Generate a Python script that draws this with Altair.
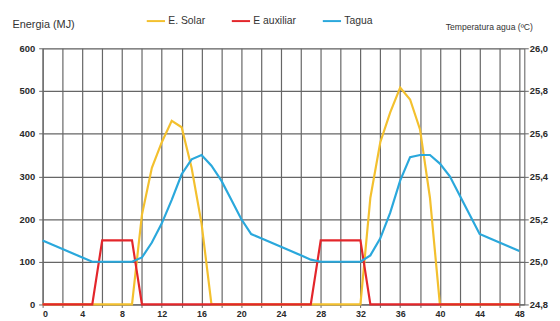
import altair as alt
import pandas as pd

# ---- data ----
hours = list(range(49))

solar = [0, 0, 0, 0, 0, 0, 0, 0, 0, 0,
         210, 320, 380, 430, 415, 320, 190, 0, 0, 0,
         0, 0, 0, 0, 0, 0, 0, 0, 0, 0,
         0, 0, 0, 250, 380, 450, 508, 480, 410, 250,
         0, 0, 0, 0, 0, 0, 0, 0, 0]

auxiliar = [0, 0, 0, 0, 0, 0, 150, 150, 150, 150,
            0, 0, 0, 0, 0, 0, 0, 0, 0, 0,
            0, 0, 0, 0, 0, 0, 0, 0, 150, 150,
            150, 150, 150, 0, 0, 0, 0, 0, 0, 0,
            0, 0, 0, 0, 0, 0, 0, 0, 0]

tagua = [25.10, 25.08, 25.06, 25.04, 25.02, 25.00, 25.00, 25.00, 25.00, 25.00,
         25.02, 25.09, 25.18, 25.29, 25.41, 25.48, 25.50, 25.45, 25.38, 25.29,
         25.20, 25.13, 25.11, 25.09, 25.07, 25.05, 25.03, 25.01, 25.00, 25.00,
         25.00, 25.00, 25.00, 25.03, 25.11, 25.23, 25.38, 25.49, 25.50, 25.50,
         25.46, 25.40, 25.31, 25.22, 25.13, 25.11, 25.09, 25.07, 25.05]

series_names = ["E. Solar", "E auxiliar", "Tagua"]
series_colors = ["#F3C02E", "#E3262B", "#2AA8DC"]
energy_ticks = [0, 100, 200, 300, 400, 500, 600]
temp_ticks = [24.8, 25.0, 25.2, 25.4, 25.6, 25.8, 26.0]
hour_ticks = list(range(0, 49, 2))

df_solar = pd.DataFrame({"hora": hours, "valor": solar, "serie": series_names[0]})
df_aux = pd.DataFrame({"hora": hours, "valor": auxiliar, "serie": series_names[1]})
df_tagua = pd.DataFrame({"hora": hours, "temp": tagua, "serie": series_names[2]})

FONT = "Liberation Sans"
GRID = "#666666"
LABEL = "#2a2a2a"

color = alt.Color(
    "serie:N",
    scale=alt.Scale(domain=series_names, range=series_colors),
    legend=alt.Legend(
        title=None,
        orient="none",
        direction="horizontal",
        legendX=104,
        legendY=-38,
        symbolType="stroke",
        symbolSize=340,
        symbolStrokeWidth=2,
        labelFontSize=10.5,
        labelFont=FONT,
        labelColor="#333333",
        labelOffset=2,
        columnPadding=22,
    ),
)

x_enc = alt.X(
    "hora:Q",
    scale=alt.Scale(domain=[0, 48.5], nice=False, zero=False),
    axis=alt.Axis(
        title=None,
        values=hour_ticks,
        labelExpr="datum.value % 4 == 0 ? datum.label : ''",
        grid=True,
        gridColor=GRID,
        gridWidth=1.2,
        tickColor=GRID,
        tickSize=3,
        domainColor=GRID,
        labelFontSize=9,
        labelFontWeight="bold",
        labelFont=FONT,
        labelColor=LABEL,
        labelPadding=2,
    ),
)

y_energy = alt.Y(
    "valor:Q",
    scale=alt.Scale(domain=[0, 600], nice=False),
    axis=alt.Axis(
        title="Energia (MJ)",
        titleAngle=0,
        titleX=-31,
        titleY=-24,
        titleAlign="left",
        titleBaseline="middle",
        titleFontSize=11,
        titleFontWeight="normal",
        titleFont=FONT,
        titleColor="#333333",
        values=energy_ticks,
        grid=True,
        gridColor=GRID,
        gridWidth=1.2,
        tickColor=GRID,
        tickSize=4,
        domainColor=GRID,
        labelFontSize=9.5,
        labelFontWeight="bold",
        labelFont=FONT,
        labelColor=LABEL,
        labelPadding=4,
    ),
)

y_temp = alt.Y(
    "temp:Q",
    scale=alt.Scale(domain=[24.8, 26.0], nice=False, zero=False),
    axis=alt.Axis(
        orient="right",
        title="Temperatura agua (ºC)",
        titleAngle=0,
        titleX=-80,
        titleY=-22,
        titleAlign="left",
        titleBaseline="middle",
        titleFontSize=8.7,
        titleFontWeight="normal",
        titleFont=FONT,
        titleColor="#333333",
        values=temp_ticks,
        labelExpr="replace(format(datum.value, '.1f'), '.', ',')",
        grid=False,
        tickColor=GRID,
        tickSize=4,
        domainColor=GRID,
        labelFontSize=9.5,
        labelFontWeight="bold",
        labelFont=FONT,
        labelColor=LABEL,
        labelPadding=1,
    ),
)

solar_line = alt.Chart(df_solar).mark_line(strokeWidth=2.2).encode(x=x_enc, y=y_energy, color=color)
aux_line = alt.Chart(df_aux).mark_line(strokeWidth=2.2).encode(x=x_enc, y=y_energy, color=color)
energy = alt.layer(solar_line, aux_line)

tagua_line = alt.Chart(df_tagua).mark_line(strokeWidth=2.2).encode(x=x_enc, y=y_temp, color=color)

chart = (
    alt.layer(energy, tagua_line)
    .resolve_scale(y="independent")
    .properties(
        width=487,
        height=259,
        autosize=alt.AutoSizeParams(type="none"),
        padding={"left": 35, "top": 39, "right": 28, "bottom": 16},
    )
    .configure_view(stroke=None)
    .configure(background="white")
)

chart.save("out.html", embed_options={"renderer": "svg", "actions": False})
